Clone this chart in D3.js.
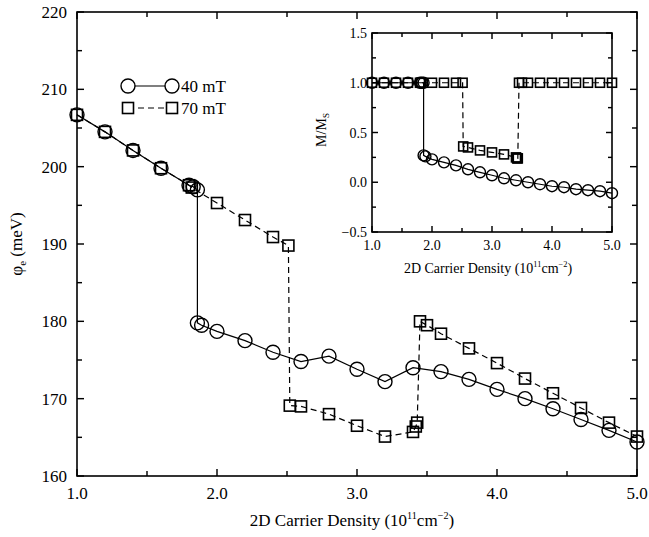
<!DOCTYPE html>
<html>
<head>
<meta charset="utf-8">
<script src="https://cdn.jsdelivr.net/npm/d3@7"></script>
<style>
  body { margin: 0; background: #fff; }
  text { font-family: "Liberation Serif", "DejaVu Serif", serif; fill: #000; }
</style>
</head>
<body>
<svg id="chart" width="649" height="537"></svg>
<script>
// ── Data ───────────────────────────────────────────────────────────────────

// 40 mT: density (1e11 cm^-2), phi_e (meV), M/Ms
var density40 = [1.0, 1.2, 1.4, 1.6, 1.8, 1.83, 1.86, 1.86, 1.89, 2.0, 2.2, 2.4, 2.6, 2.8,
                 3.0, 3.2, 3.4, 3.6, 3.8, 4.0, 4.2, 4.4, 4.6, 4.8, 5.0];
var phi40     = [206.7, 204.5, 202.1, 199.8, 197.6, 197.4, 197.0, 179.8, 179.5, 178.7, 177.5,
                 176.0, 174.8, 175.5, 173.8, 172.2, 174.0, 173.5, 172.5, 171.2, 170.0, 168.7,
                 167.3, 165.9, 164.4];
var mag40     = [1.0, 1.0, 1.0, 1.0, 1.0, 1.0, 1.0, 0.27, 0.26, 0.23, 0.20, 0.17, 0.13, 0.10,
                 0.07, 0.04, 0.02, 0.0, -0.02, -0.04, -0.05, -0.07, -0.08, -0.09, -0.11];

// 70 mT
var density70 = [1.0, 1.2, 1.4, 1.6, 1.8, 1.82, 2.0, 2.2, 2.4, 2.51, 2.52, 2.6, 2.8, 3.0,
                 3.2, 3.4, 3.42, 3.43, 3.45, 3.5, 3.6, 3.8, 4.0, 4.2, 4.4, 4.6, 4.8, 5.0];
var phi70     = [206.7, 204.5, 202.1, 199.8, 197.6, 197.3, 195.3, 193.1, 190.9, 189.8, 169.1,
                 169.0, 168.0, 166.5, 165.1, 165.7, 166.4, 166.9, 180.0, 179.5, 178.4, 176.5,
                 174.6, 172.6, 170.7, 168.8, 166.9, 165.1];
var mag70     = [1.0, 1.0, 1.0, 1.0, 1.0, 1.0, 1.0, 1.0, 1.0, 1.0, 0.36, 0.35, 0.32, 0.30,
                 0.28, 0.25, 0.24, 0.24, 1.0, 1.0, 1.0, 1.0, 1.0, 1.0, 1.0, 1.0, 1.0, 1.0];

var xTicks      = [1, 2, 3, 4, 5];
var mainYTicks  = [160, 170, 180, 190, 200, 210, 220];
var insetYTicks = [-0.5, 0, 0.5, 1.0, 1.5];
var legendLabels = ['40 mT', '70 mT'];

// ── Helpers ───────────────────────────────────────────────────────────────

function zip(xs, ys) {
  return xs.map(function(x, i) { return [x, ys[i]]; });
}

// draw a framed panel with inward ticks on all four sides
function frame(g, x, y, o) {
  var x0 = x.range()[0], x1 = x.range()[1];
  var y0 = y.range()[0], y1 = y.range()[1];

  g.append('rect')
    .attr('x', x0).attr('y', y1)
    .attr('width', x1 - x0).attr('height', y0 - y1)
    .attr('fill', 'none').attr('stroke', '#000').attr('stroke-width', o.sw);

  var xMinor = d3.range(x.domain()[0], x.domain()[1] + 1e-9, o.xMinor);
  var yMinor = d3.range(y.domain()[0], y.domain()[1] + 1e-9, o.yMinor);

  function isMajor(v, step) { return Math.abs(v / step - Math.round(v / step)) < 1e-6; }

  var tg = g.append('g').attr('stroke', '#000').attr('stroke-width', o.sw * 0.9);
  xMinor.forEach(function(v) {
    var L = isMajor(v, o.xMajor) ? o.major : o.minor;
    tg.append('line').attr('x1', x(v)).attr('x2', x(v)).attr('y1', y0).attr('y2', y0 - L);
    tg.append('line').attr('x1', x(v)).attr('x2', x(v)).attr('y1', y1).attr('y2', y1 + L);
  });
  yMinor.forEach(function(v) {
    var L = isMajor(v, o.yMajor) ? o.major : o.minor;
    tg.append('line').attr('y1', y(v)).attr('y2', y(v)).attr('x1', x0).attr('x2', x0 + L);
    tg.append('line').attr('y1', y(v)).attr('y2', y(v)).attr('x1', x1).attr('x2', x1 - L);
  });
}

function densityTitle(g, cx, cy, fs) {
  var t = g.append('text')
    .attr('x', cx).attr('y', cy)
    .attr('text-anchor', 'middle')
    .attr('font-size', fs);
  t.append('tspan').text('2D Carrier Density (10');
  t.append('tspan').attr('dy', -fs * 0.4).attr('font-size', fs * 0.6).text('11');
  t.append('tspan').attr('dy', fs * 0.4).text('cm');
  t.append('tspan').attr('dy', -fs * 0.4).attr('font-size', fs * 0.6).text('\u22122');
  t.append('tspan').attr('dy', fs * 0.4).text(')');
}

function drawSeries(g, x, y, pts, dashed, shape, size, sw) {
  var line = d3.line().x(function(d) { return x(d[0]); }).y(function(d) { return y(d[1]); });
  g.append('path')
    .datum(pts)
    .attr('d', line)
    .attr('fill', 'none')
    .attr('stroke', '#000')
    .attr('stroke-width', sw)
    .attr('stroke-dasharray', dashed ? '6,4' : null);

  if (shape === 'circle') {
    g.append('g').selectAll('circle')
      .data(pts).join('circle')
      .attr('cx', function(d) { return x(d[0]); })
      .attr('cy', function(d) { return y(d[1]); })
      .attr('r', size)
      .attr('fill', 'none').attr('stroke', '#000').attr('stroke-width', sw + 0.2);
  } else {
    g.append('g').selectAll('rect')
      .data(pts).join('rect')
      .attr('x', function(d) { return x(d[0]) - size; })
      .attr('y', function(d) { return y(d[1]) - size; })
      .attr('width', size * 2).attr('height', size * 2)
      .attr('fill', 'none').attr('stroke', '#000').attr('stroke-width', sw + 0.4);
  }
}

// ── Main panel ────────────────────────────────────────────────────────────

var svg = d3.select('#chart');

var x = d3.scaleLinear().domain([1, 5]).range([77, 637]);
var y = d3.scaleLinear().domain([160, 220]).range([476, 12]);

var main = svg.append('g');
frame(main, x, y, { sw: 1.6, xMinor: 0.5, xMajor: 1, yMinor: 5, yMajor: 10, major: 7, minor: 5 });

main.append('g').selectAll('text')
  .data(xTicks).join('text')
  .attr('x', function(d) { return x(d); })
  .attr('y', 499)
  .attr('text-anchor', 'middle')
  .attr('font-size', 17)
  .text(function(d) { return d3.format('.1f')(d); });

main.append('g').selectAll('text')
  .data(mainYTicks).join('text')
  .attr('x', 67)
  .attr('y', function(d) { return y(d) + 6; })
  .attr('text-anchor', 'end')
  .attr('font-size', 17)
  .text(function(d) { return d; });

densityTitle(main, 352, 526, 17);

var yl = main.append('text')
  .attr('transform', 'translate(22,244) rotate(-90)')
  .attr('text-anchor', 'middle')
  .attr('font-size', 17);
yl.append('tspan').text('\u03c6');
yl.append('tspan').attr('dy', 4).attr('font-size', 11).text('e');
yl.append('tspan').attr('dy', -4).text(' (meV)');

drawSeries(main, x, y, zip(density40, phi40), false, 'circle', 7, 1.2);
drawSeries(main, x, y, zip(density70, phi70), true, 'square', 5.5, 1.2);

// legend
var lg = main.append('g');
[0, 1].forEach(function(i) {
  var ly = 86 + i * 22;
  lg.append('line')
    .attr('x1', 128).attr('x2', 172).attr('y1', ly).attr('y2', ly)
    .attr('stroke', '#000').attr('stroke-width', 1.2)
    .attr('stroke-dasharray', i ? '6,4' : null);
  [128, 172].forEach(function(cx) {
    if (i === 0) {
      lg.append('circle').attr('cx', cx).attr('cy', ly).attr('r', 7)
        .attr('fill', '#fff').attr('stroke', '#000').attr('stroke-width', 1.4);
    } else {
      lg.append('rect').attr('x', cx - 5.5).attr('y', ly - 5.5).attr('width', 11).attr('height', 11)
        .attr('fill', '#fff').attr('stroke', '#000').attr('stroke-width', 1.6);
    }
  });
  lg.append('text').attr('x', 181).attr('y', ly + 6).attr('font-size', 17).text(legendLabels[i]);
});

// ── Inset ────────────────────────────────────────────────────────────────

var xi = d3.scaleLinear().domain([1, 5]).range([372, 612]);
var yi = d3.scaleLinear().domain([-0.5, 1.5]).range([232, 33]);

var inset = svg.append('g');
frame(inset, xi, yi, { sw: 1.6, xMinor: 0.5, xMajor: 1, yMinor: 0.25, yMajor: 0.5, major: 6, minor: 4 });

inset.append('g').selectAll('text')
  .data(xTicks).join('text')
  .attr('x', function(d) { return xi(d); })
  .attr('y', 250)
  .attr('text-anchor', 'middle')
  .attr('font-size', 14)
  .text(function(d) { return d3.format('.1f')(d); });

inset.append('g').selectAll('text')
  .data(insetYTicks).join('text')
  .attr('x', 367)
  .attr('y', function(d) { return yi(d) + 5; })
  .attr('text-anchor', 'end')
  .attr('font-size', 14)
  .text(function(d) { return d3.format('.1f')(d).replace('-', '\u2212'); });

densityTitle(inset, 488, 273, 14);

var yli = inset.append('text')
  .attr('transform', 'translate(326,130) rotate(-90)')
  .attr('text-anchor', 'middle')
  .attr('font-size', 14);
yli.append('tspan').text('M/M');
yli.append('tspan').attr('dy', 3).attr('font-size', 9).text('S');

drawSeries(inset, xi, yi, zip(density40, mag40), false, 'circle', 5.5, 1.2);
drawSeries(inset, xi, yi, zip(density70, mag70), true, 'square', 4.5, 1.2);
</script>
</body>
</html>
